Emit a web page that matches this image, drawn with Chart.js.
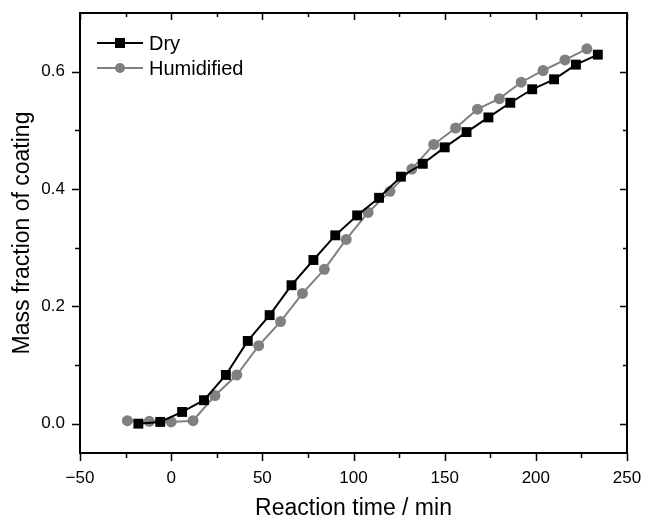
<!DOCTYPE html>
<html>
<head>
<meta charset="utf-8">
<script src="https://cdn.jsdelivr.net/npm/chart.js@4/dist/chart.umd.min.js"></script>
<style>
body { margin: 0; background: #fff; }
#wrap { width: 647px; height: 522px; }
</style>
</head>
<body>
<div id="wrap"><canvas id="canvas" width="647" height="522"></canvas></div>
<script>
// data
var dryTime = [-18, -6, 6, 18, 30, 42, 54, 66, 78, 90, 102, 114, 126, 138, 150, 162, 174, 186, 198, 210, 222, 234];
var dryFraction = [0.0, 0.003, 0.020, 0.040, 0.083, 0.141, 0.185, 0.236, 0.279, 0.321, 0.355, 0.385, 0.421, 0.443, 0.471, 0.497, 0.522, 0.547, 0.570, 0.587, 0.612, 0.629];
var humTime = [-24, -12, 0, 12, 24, 36, 48, 60, 72, 84, 96, 108, 120, 132, 144, 156, 168, 180, 192, 204, 216, 228];
var humFraction = [0.005, 0.004, 0.003, 0.005, 0.048, 0.083, 0.133, 0.174, 0.222, 0.263, 0.314, 0.360, 0.396, 0.434, 0.476, 0.504, 0.536, 0.554, 0.582, 0.602, 0.620, 0.639];

var xMajorTicks = [-50, 0, 50, 100, 150, 200, 250];
var xMinorTicks = [-25, 25, 75, 125, 175, 225];
var yMajorTicks = [0, 0.2, 0.4, 0.6];
var yMinorTicks = [0.1, 0.3, 0.5];

var fontFamily = '"Liberation Sans", Arial, sans-serif';

function toPoints(xs, ys){
	var pts = [];
	for(var i = 0; i < xs.length; i++){
		pts.push({x: xs[i], y: ys[i]});
	}
	return pts;
}

// frame + Origin style ticks (outward on bottom/left, inward on top/right)
var framePlugin = {
	id: 'frame',
	afterDraw: function(chart){
		var ctx = chart.ctx;
		var a = chart.chartArea;
		var xs = chart.scales.x, ys = chart.scales.y;
		ctx.save();
		ctx.strokeStyle = '#000';
		ctx.lineWidth = 2;
		ctx.strokeRect(a.left, a.top, a.right - a.left, a.bottom - a.top);
		ctx.lineWidth = 1.5;
		ctx.beginPath();
		function xTick(v, outLen, inLen){
			var px = Math.round(xs.getPixelForValue(v)) + 0.5;
			ctx.moveTo(px, a.bottom); ctx.lineTo(px, a.bottom + outLen);
			ctx.moveTo(px, a.top); ctx.lineTo(px, a.top + inLen);
		}
		function yTick(v, outLen, inLen){
			var py = Math.round(ys.getPixelForValue(v)) + 0.5;
			ctx.moveTo(a.left, py); ctx.lineTo(a.left - outLen, py);
			ctx.moveTo(a.right, py); ctx.lineTo(a.right - inLen, py);
		}
		xMajorTicks.forEach(function(v){ xTick(v, 8, 7); });
		xMinorTicks.forEach(function(v){ xTick(v, 5, 4); });
		yMajorTicks.forEach(function(v){ yTick(v, 8, 7); });
		yMinorTicks.forEach(function(v){ yTick(v, 5, 4); });
		ctx.stroke();
		ctx.restore();
	}
};

// legend in the upper left corner of the plot
var legendPlugin = {
	id: 'cornerLegend',
	afterDatasetsDraw: function(chart){
		var ctx = chart.ctx;
		var rows = [43, 68];
		ctx.save();
		chart.data.datasets.forEach(function(ds, i){
			var y = rows[i];
			ctx.strokeStyle = ds.borderColor;
			ctx.lineWidth = ds.borderWidth;
			ctx.beginPath();
			ctx.moveTo(97, y); ctx.lineTo(143, y);
			ctx.stroke();
			ctx.fillStyle = ds.pointBackgroundColor;
			if(ds.pointStyle == 'rect'){
				ctx.fillRect(120 - 5, y - 5, 10, 10);
			}else{
				ctx.beginPath();
				ctx.arc(120, y, 5, 0, Math.PI * 2);
				ctx.fill();
			}
			ctx.fillStyle = '#000';
			ctx.font = '20px ' + fontFamily;
			ctx.textBaseline = 'middle';
			ctx.textAlign = 'left';
			ctx.fillText(ds.label, 149, y + 1);
		});
		ctx.restore();
	}
};

var ctx = document.getElementById('canvas').getContext('2d');
var chart = new Chart(ctx, {
	type: 'line',
	data: {
		datasets: [{
			label: 'Dry',
			data: toPoints(dryTime, dryFraction),
			borderColor: '#000000',
			borderWidth: 2,
			pointStyle: 'rect',
			pointRadius: 7,
			pointBackgroundColor: '#000000',
			pointBorderColor: '#000000',
			pointBorderWidth: 0,
			tension: 0
		}, {
			label: 'Humidified',
			data: toPoints(humTime, humFraction),
			borderColor: '#808080',
			borderWidth: 2,
			pointStyle: 'circle',
			pointRadius: 5.5,
			pointBackgroundColor: '#808080',
			pointBorderColor: '#808080',
			pointBorderWidth: 0,
			tension: 0
		}]
	},
	options: {
		responsive: false,
		animation: false,
		layout: { padding: { top: 13, right: 20, left: 0, bottom: 0 } },
		plugins: {
			legend: { display: false },
			tooltip: { enabled: false }
		},
		scales: {
			x: {
				type: 'linear',
				min: -50,
				max: 250,
				afterBuildTicks: function(scale){
					scale.ticks = xMajorTicks.map(function(v){ return {value: v}; });
				},
				afterFit: function(scale){
					scale.height = 69;
					scale.paddingLeft = 0;
					scale.paddingRight = 0;
				},
				grid: { display: false, drawTicks: false },
				border: { display: false },
				ticks: {
					color: '#000',
					padding: 15,
					maxRotation: 0,
					font: { family: fontFamily, size: 17 },
					callback: function(v){ return v < 0 ? '\u2212' + Math.abs(v) : String(v); }
				},
				title: {
					display: true,
					text: 'Reaction time / min',
					color: '#000',
					padding: { top: 0, bottom: 0 },
					font: { family: fontFamily, size: 23 }
				}
			},
			y: {
				type: 'linear',
				min: -0.05,
				max: 0.7,
				afterBuildTicks: function(scale){
					scale.ticks = yMajorTicks.map(function(v){ return {value: v}; });
				},
				afterFit: function(scale){
					scale.width = 80;
					scale.paddingTop = 0;
					scale.paddingBottom = 0;
				},
				grid: { display: false, drawTicks: false },
				border: { display: false },
				ticks: {
					color: '#000',
					padding: 15,
					font: { family: fontFamily, size: 17 },
					callback: function(v){ return v.toFixed(1); }
				},
				title: {
					display: true,
					text: 'Mass fraction of coating',
					color: '#000',
					padding: { top: 9, bottom: 0 },
					font: { family: fontFamily, size: 23 }
				}
			}
		}
	},
	plugins: [framePlugin, legendPlugin]
});
</script>
</body>
</html>
